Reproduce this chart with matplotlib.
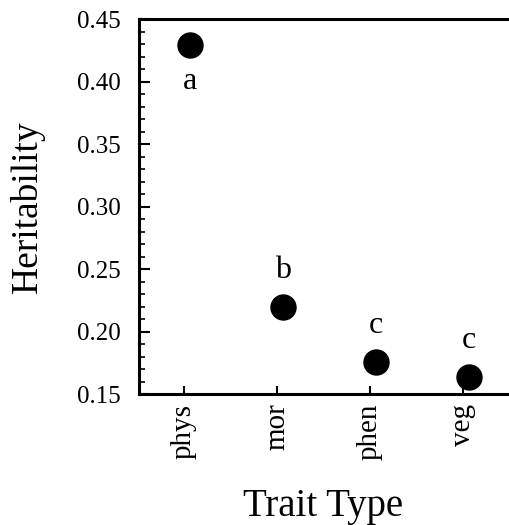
import numpy as np
import matplotlib
matplotlib.use('Agg')
import matplotlib.pyplot as plt
from matplotlib.ticker import MultipleLocator, FormatStrFormatter

plt.rcParams['font.family'] = ['Liberation Serif', 'DejaVu Serif']

traits = ['phys', 'mor', 'phen', 'veg']
heritability = [0.429, 0.220, 0.176, 0.164]
groups = ['a', 'b', 'c', 'c']
label_below = [True, False, False, False]

fig = plt.figure(figsize=(5.1, 5.25), dpi=100)
ax = fig.add_axes([0.2725, 0.2495, 0.7275, 0.7143])

x = np.arange(len(traits))
ax.plot(x + 0.06, heritability, 'o', color='black', markersize=18, clip_on=False)

for xi, h, g, below in zip(x, heritability, groups, label_below):
    off = -26 if below else 26
    ax.annotate(g, (xi + 0.06, h), xytext=(0, off), textcoords='offset points',
                ha='center', va='center', fontsize=23)

ax.set_xlim(-0.484, 3.505)
ax.set_ylim(0.15, 0.45)
ax.set_xticks(x)
ax.set_xticklabels(traits, rotation=90, fontsize=21)
ax.yaxis.set_major_locator(MultipleLocator(0.05))
ax.yaxis.set_minor_locator(MultipleLocator(0.01))
ax.yaxis.set_major_formatter(FormatStrFormatter('%.2f'))

ax.tick_params(axis='y', which='major', direction='in', length=8, width=1.5, pad=13, labelsize=18)
ax.tick_params(axis='y', which='minor', direction='in', length=4, width=1.2)
ax.tick_params(axis='x', which='major', direction='in', length=6, width=1.5, pad=7)

ax.spines['right'].set_visible(False)
for s in ['left', 'top', 'bottom']:
    ax.spines[s].set_linewidth(2.2)

ax.set_xlabel('Trait Type', fontsize=28)
ax.set_ylabel('Heritability', fontsize=27)
ax.xaxis.set_label_coords(0.497, -0.25)
ax.yaxis.set_label_coords(-0.253, 0.5)

fig.savefig('out.png', dpi=100)
